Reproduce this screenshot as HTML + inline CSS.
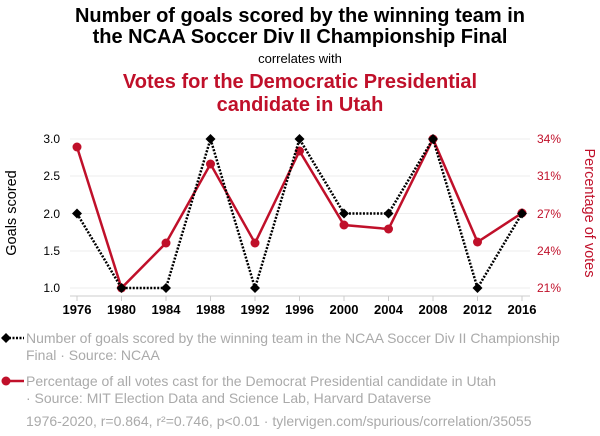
<!DOCTYPE html><html><head><style>body{margin:0;background:#fff;width:600px;height:436px;overflow:hidden}svg{display:block}text{font-family:"Liberation Sans",sans-serif}</style></head><body>
<svg width="600" height="436" viewBox="0 0 600 436">
<text x="300" y="22" text-anchor="middle" font-size="20" font-weight="bold" fill="#000">Number of goals scored by the winning team in</text>
<text x="300" y="43" text-anchor="middle" font-size="20" font-weight="bold" fill="#000">the NCAA Soccer Div II Championship Final</text>
<text x="300" y="63" text-anchor="middle" font-size="13" fill="#000">correlates with</text>
<text x="300" y="88" text-anchor="middle" font-size="20" font-weight="bold" fill="#c0102a">Votes for the Democratic Presidential</text>
<text x="300" y="111" text-anchor="middle" font-size="20" font-weight="bold" fill="#c0102a">candidate in Utah</text>
<g stroke="#eee" stroke-width="1">
<line x1="70" x2="530" y1="139" y2="139"/><line x1="70" x2="530" y1="176" y2="176"/><line x1="70" x2="530" y1="213.5" y2="213.5"/><line x1="70" x2="530" y1="251" y2="251"/><line x1="70" x2="530" y1="288" y2="288"/></g>
<line x1="70" x2="530" y1="296" y2="296" stroke="#ccc"/>
<g font-size="12" fill="#000" text-anchor="end">
<text x="60" y="143">3.0</text><text x="60" y="180">2.5</text><text x="60" y="218">2.0</text><text x="60" y="255">1.5</text><text x="60" y="292">1.0</text></g>
<g font-size="12" fill="#c0102a" text-anchor="start">
<text x="537" y="143">34%</text><text x="537" y="180">31%</text><text x="537" y="218">27%</text><text x="537" y="255">24%</text><text x="537" y="292">21%</text></g>
<text transform="translate(16,213) rotate(-90)" text-anchor="middle" font-size="14.5" fill="#000">Goals scored</text>
<text transform="translate(585,213) rotate(90)" text-anchor="middle" font-size="14.5" fill="#c0102a">Percentage of votes</text>
<g font-size="13" font-weight="bold" text-anchor="middle" fill="#000">
<text x="77" y="314">1976</text><text x="121.5" y="314">1980</text><text x="166" y="314">1984</text><text x="210.5" y="314">1988</text><text x="255" y="314">1992</text><text x="299.5" y="314">1996</text><text x="344" y="314">2000</text><text x="388.5" y="314">2004</text><text x="433" y="314">2008</text><text x="477.5" y="314">2012</text><text x="522" y="314">2016</text></g>
<g stroke="#ccc"><line x1="77" x2="77" y1="296" y2="301"/><line x1="121.5" x2="121.5" y1="296" y2="301"/><line x1="166" x2="166" y1="296" y2="301"/><line x1="210.5" x2="210.5" y1="296" y2="301"/><line x1="255" x2="255" y1="296" y2="301"/><line x1="299.5" x2="299.5" y1="296" y2="301"/><line x1="344" x2="344" y1="296" y2="301"/><line x1="388.5" x2="388.5" y1="296" y2="301"/><line x1="433" x2="433" y1="296" y2="301"/><line x1="477.5" x2="477.5" y1="296" y2="301"/><line x1="522" x2="522" y1="296" y2="301"/></g>
<polyline fill="none" stroke="#c0102a" stroke-width="2.5" points="77,147 121.5,288 166,243 210.5,164 255,243 299.5,151 344,225 388.5,229 433,139 477.5,242 522,213"/>
<g fill="#c0102a"><circle cx="77" cy="147" r="4.5"/><circle cx="121.5" cy="288" r="4.5"/><circle cx="166" cy="243" r="4.5"/><circle cx="210.5" cy="164" r="4.5"/><circle cx="255" cy="243" r="4.5"/><circle cx="299.5" cy="151" r="4.5"/><circle cx="344" cy="225" r="4.5"/><circle cx="388.5" cy="229" r="4.5"/><circle cx="433" cy="139" r="4.5"/><circle cx="477.5" cy="242" r="4.5"/><circle cx="522" cy="213" r="4.5"/></g>
<polyline fill="none" stroke="#000" stroke-width="2.5" stroke-dasharray="2,1.5" points="77,213.5 121.5,288 166,288 210.5,139 255,288 299.5,139 344,213.5 388.5,213.5 433,139 477.5,288 522,213.5"/>
<g fill="#000">
<path d="M77 208.5l5 5-5 5-5-5z"/><path d="M121.5 283l5 5-5 5-5-5z"/><path d="M166 283l5 5-5 5-5-5z"/><path d="M210.5 134l5 5-5 5-5-5z"/><path d="M255 283l5 5-5 5-5-5z"/><path d="M299.5 134l5 5-5 5-5-5z"/><path d="M344 208.5l5 5-5 5-5-5z"/><path d="M388.5 208.5l5 5-5 5-5-5z"/><path d="M433 134l5 5-5 5-5-5z"/><path d="M477.5 283l5 5-5 5-5-5z"/><path d="M522 208.5l5 5-5 5-5-5z"/></g>
<line x1="2" x2="24" y1="338" y2="338" stroke="#000" stroke-width="2.5" stroke-dasharray="2,1.5"/>
<path d="M6 333l5 5-5 5-5-5z" fill="#000"/>
<line x1="2" x2="24" y1="381" y2="381" stroke="#c0102a" stroke-width="2.5"/>
<circle cx="6" cy="381" r="4.5" fill="#c0102a"/>
<g font-size="14" fill="#aaa">
<text x="26" y="343">Number of goals scored by the winning team in the NCAA Soccer Div II Championship</text>
<text x="26" y="360">Final · Source: NCAA</text>
<text x="26" y="386">Percentage of all votes cast for the Democrat Presidential candidate in Utah</text>
<text x="26" y="403">· Source: MIT Election Data and Science Lab, Harvard Dataverse</text>
<text x="26" y="426">1976-2020, r=0.864, r²=0.746, p&lt;0.01 · tylervigen.com/spurious/correlation/35055</text></g>
</svg></body></html>
